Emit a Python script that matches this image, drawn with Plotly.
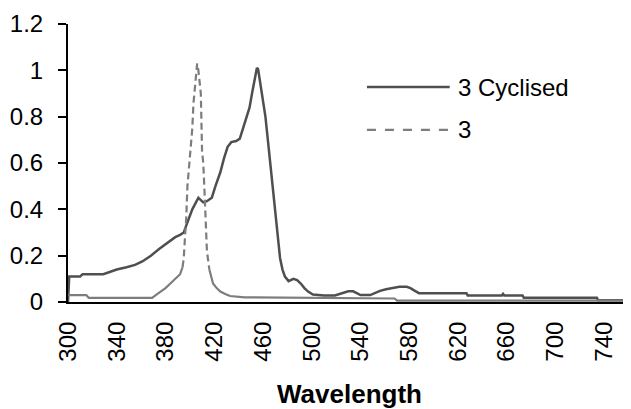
import plotly.graph_objects as go

# ---- data ----
cyc_wl = [300, 301, 310, 312, 329, 340, 348, 355, 361, 368, 375, 384, 388, 392, 395, 397, 400, 402,
          405, 407, 409, 411, 414, 418, 421, 425, 428, 431, 434, 438, 441, 443, 446, 449, 451, 453,
          455, 456, 458, 460, 462, 464, 466, 468, 470, 472, 474, 476, 478, 481, 485, 488, 491, 494,
          497, 501, 510, 519, 523, 527, 530, 534, 537, 540, 548, 552, 556, 561, 566, 572, 578, 581,
          584, 588, 627, 628, 656, 657, 658, 673, 674, 734, 735, 762]
cyc_val = [0.0, 0.11, 0.11, 0.12, 0.12, 0.14, 0.15, 0.16, 0.175, 0.2, 0.23, 0.265, 0.28, 0.29, 0.30,
           0.33, 0.37, 0.40, 0.43, 0.45, 0.44, 0.43, 0.435, 0.45, 0.50, 0.56, 0.62, 0.67, 0.69, 0.695,
           0.705, 0.74, 0.79, 0.84, 0.90, 0.96, 1.01, 1.005, 0.93, 0.87, 0.80, 0.70, 0.60, 0.48, 0.38,
           0.28, 0.19, 0.14, 0.11, 0.09, 0.10, 0.095, 0.08, 0.06, 0.045, 0.032, 0.028, 0.028, 0.035,
           0.042, 0.046, 0.046, 0.038, 0.03, 0.03, 0.04, 0.048, 0.055, 0.06, 0.066, 0.066, 0.06, 0.05,
           0.038, 0.038, 0.028, 0.028, 0.035, 0.028, 0.028, 0.018, 0.018, 0.008, 0.008]

s3_wl = [300, 315, 317, 369, 372, 375, 380, 384, 388, 392, 394, 395, 396, 397, 398, 400, 402, 403,
         405, 406, 407, 408, 409, 410, 411, 412, 413, 414, 416, 419, 422, 425, 429, 433, 445, 520,
         568, 570, 762]
s3_val = [0.03, 0.03, 0.018, 0.018, 0.03, 0.04, 0.06, 0.08, 0.10, 0.12, 0.15, 0.19, 0.28, 0.36, 0.50,
          0.62, 0.75, 0.86, 0.97, 1.03, 1.0, 0.95, 0.90, 0.65, 0.60, 0.48, 0.30, 0.22, 0.14, 0.08, 0.06,
          0.045, 0.035, 0.026, 0.02, 0.018, 0.015, 0.006, 0.006]

series_names = ["3 Cyclised", "3"]
x_ticks = [300, 340, 380, 420, 460, 500, 540, 580, 620, 660, 700, 740]
y_ticks = [0, 0.2, 0.4, 0.6, 0.8, 1, 1.2]
y_tick_text = ["0", "0.2", "0.4", "0.6", "0.8", "1", "1.2"]

FONT = "Arial, 'Liberation Sans', sans-serif"
C_CYC = "#4f4f4f"
C_3 = "#7d7d7d"

fig = go.Figure()
fig.add_trace(go.Scatter(x=cyc_wl, y=cyc_val, mode="lines", name=series_names[0],
                         line=dict(color=C_CYC, width=2.5), showlegend=False))

# series "3": the reference renders the dash pattern visibly only on the steep peak,
# the near-flat stretches look solid — draw the same series in three pieces
i0 = s3_wl.index(394)
i1 = s3_wl.index(416)
pieces = [(slice(0, i0 + 1), "solid"), (slice(i0, i1 + 1), "7px,4px"), (slice(i1, None), "solid")]
for sl, dsh in pieces:
    fig.add_trace(go.Scatter(x=s3_wl[sl], y=s3_val[sl], mode="lines", name=series_names[1],
                             legendgroup="s3", line=dict(color=C_3, width=2.2, dash=dsh),
                             showlegend=False))

# manual legend (longer line samples like the reference)
legend_rows = [(0.773, C_CYC, "solid", 2.5), (0.619, C_3, "dash", 2.2)]
for (yy, col, dsh, w), name in zip(legend_rows, series_names):
    fig.add_shape(type="line", xref="paper", yref="paper", x0=0.531, x1=0.678, y0=yy, y1=yy,
                  line=dict(color=col, width=w, dash=dsh))
    fig.add_annotation(xref="paper", yref="paper", x=0.689, y=yy, text=name, showarrow=False,
                       xanchor="left", yanchor="middle", font=dict(family=FONT, size=24, color="#000"))

# page body has an 8px default margin: size the figure so the plot lands where the reference has it
fig.update_layout(
    width=623, height=401,
    margin=dict(l=60, r=0, t=16, b=107),
    plot_bgcolor="white", paper_bgcolor="white",
    font=dict(family=FONT, size=24, color="#000"),
    showlegend=False,
)
fig.update_xaxes(range=[300, 762], tickvals=x_ticks, ticktext=[str(v) for v in x_ticks],
                 tickangle=-90, showgrid=False, zeroline=False, showline=True,
                 linecolor="#000", linewidth=2, ticks="", ticklabelstandoff=8, automargin=False,
                 title=dict(text="<b>Wavelength</b>", font=dict(family=FONT, size=26), standoff=27))
fig.update_yaxes(range=[0, 1.2], tickvals=y_ticks, ticktext=y_tick_text, showgrid=False,
                 zeroline=False, showline=True, linecolor="#000", linewidth=2, automargin=False,
                 ticks="outside", ticklen=8, tickwidth=2, tickcolor="#000", ticklabelstandoff=10)

fig.write_html("out.html")
